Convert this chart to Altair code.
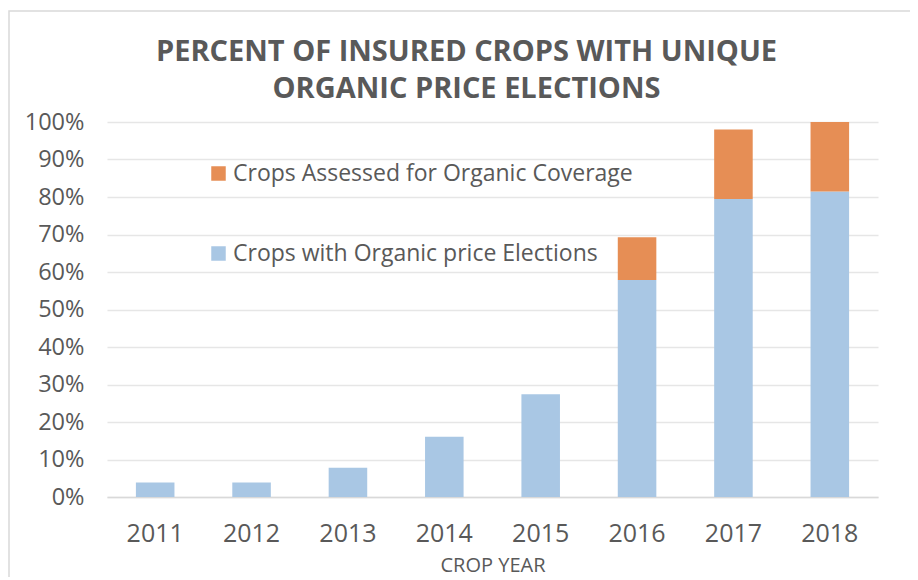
import altair as alt
import pandas as pd

years = ["2011", "2012", "2013", "2014", "2015", "2016", "2017", "2018"]
elections = [3.9, 3.9, 7.8, 16.1, 27.4, 57.9, 79.5, 81.5]
assessed = [0, 0, 0, 0, 0, 11.4, 18.5, 18.5]
series = ["Crops Assessed for Organic Coverage", "Crops with Organic price Elections"]
colors = ["#E58A4F", "#A6C5E3"]

rows = []
for y, e, a in zip(years, elections, assessed):
    rows.append({"year": y, "series": series[1], "value": e / 100, "ord": 0})
    if a > 0:
        rows.append({"year": y, "series": series[0], "value": a / 100, "ord": 1})
df = pd.DataFrame(rows)

FONT = "Open Sans"
GREY = "#595959"

bars = alt.Chart(df).mark_bar(opacity=0.97).encode(
    x=alt.X("year:N", sort=years, scale=alt.Scale(paddingInner=0.6, paddingOuter=0.3),
            axis=alt.Axis(title="CROP YEAR", labelAngle=0, ticks=False, labelFontSize=25,
                          labelPadding=24, titleFontSize=20, titleFontWeight="normal",
                          titlePadding=9, domainColor="#d9d9d9", domainWidth=1.5)),
    y=alt.Y("value:Q", stack="zero", scale=alt.Scale(domain=[0, 1]),
            axis=alt.Axis(format=".0%", values=[i / 10 for i in range(11)], ticks=False,
                          domain=False, labelFontSize=23.5, labelPadding=23, title=None,
                          gridColor="#e6e6e6", gridWidth=1.5)),
    color=alt.Color("series:N", scale=alt.Scale(domain=series, range=colors),
                    legend=alt.Legend(title=None, orient="none", legendX=100, legendY=40,
                                      symbolType="square", symbolSize=210, labelFontSize=23,
                                      labelColor=GREY, labelFont=FONT, rowPadding=56,
                                      symbolStrokeWidth=0, labelOffset=3, labelLimit=0)),
    order=alt.Order("ord:Q"),
)

border = alt.Chart(alt.Data(values=[{}])).mark_rect(
    fill=None, stroke="#d9d9d9", strokeWidth=1.5, clip=False
).encode(x=alt.value(-98), x2=alt.value(900), y=alt.value(-111), y2=alt.value(600))

chart = alt.layer(border, bars).properties(
    width=771, height=375,
    padding={"left": 99, "top": 114, "right": 32, "bottom": 80},
    autosize=alt.AutoSizeParams(type="none"),
    title=alt.TitleParams(
        text=["PERCENT OF INSURED CROPS WITH UNIQUE", "ORGANIC PRICE ELECTIONS"],
        fontSize=29, font=FONT, fontWeight="bold", color=GREY, lineHeight=37,
        anchor="middle", frame="group", dx=-26, offset=-94,
    ),
).configure_axis(
    labelColor=GREY, titleColor=GREY, labelFont=FONT, titleFont=FONT,
).configure_view(stroke=None)

chart.save("out.html", embed_options={"renderer": "svg", "actions": False})
